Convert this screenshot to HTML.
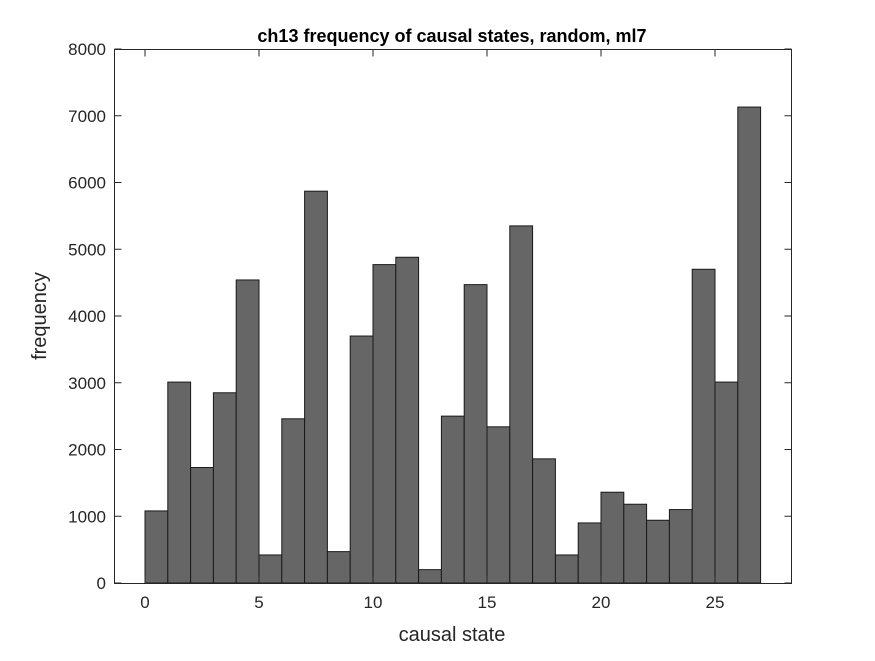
<!DOCTYPE html>
<html><head><meta charset="utf-8"><style>
body{margin:0;background:#fff;}
svg text{font-family:"Liberation Sans",Arial,sans-serif;fill:#262626;}
</style></head><body>
<svg width="875" height="656" viewBox="0 0 875 656" xmlns="http://www.w3.org/2000/svg">
<rect width="875" height="656" fill="#fff"/>
<g id="bars"></g>
<rect x="114.5" y="49.5" width="677" height="534" fill="none" stroke="#262626" stroke-width="1"/>
<g id="axes"></g>
<text x="452" y="42" text-anchor="middle" font-size="18" font-weight="bold" style="fill:#000">ch13 frequency of causal states, random, ml7</text>
<text x="452" y="641" text-anchor="middle" font-size="20">causal state</text>
<text transform="translate(46,316) rotate(-90)" text-anchor="middle" font-size="20">frequency</text>
</svg>
<script>
const categories=[0,1,2,3,4,5,6,7,8,9,10,11,12,13,14,15,16,17,18,19,20,21,22,23,24,25,26];
const values=[1080,3010,1730,2850,4540,420,2460,5870,470,3700,4770,4880,200,2500,4470,2340,5350,1860,420,900,1360,1180,940,1100,4700,3010,7130];
const xTicks=[0,5,10,15,20,25];
const yTicks=[0,1000,2000,3000,4000,5000,6000,7000,8000];
const NS='http://www.w3.org/2000/svg';
const x=v=>145+v*22.8;
const y=v=>583-v*(534/8000);
const bars=document.getElementById('bars'),axes=document.getElementById('axes');
function ln(x1,y1,x2,y2,name){
  const l=document.createElementNS(NS,'line');
  
  
  l.setAttribute('x1',x1);l.setAttribute('x2',x2);l.setAttribute('y1',y1);l.setAttribute('y2',y2);l.setAttribute('stroke','#262626');
  axes.appendChild(l);
}
categories.forEach((c,i)=>{
  const r=document.createElementNS(NS,'rect');
  
  
  r.setAttribute('x',x(c));r.setAttribute('width',22.8);
  r.setAttribute('y',y(values[i]));r.setAttribute('height',y(0)-y(values[i]));
  r.setAttribute('fill','#666');r.setAttribute('stroke','#1a1a1a');r.setAttribute('stroke-width','1');
  bars.appendChild(r);
});
xTicks.forEach(t=>{
  ln(x(t),583,x(t),576,'x-tick');
  ln(x(t),49.5,x(t),56.5,'x-tick-top');
  const tx=document.createElementNS(NS,'text');
  
  
  tx.setAttribute('x',x(t));tx.setAttribute('y',608);tx.setAttribute('text-anchor','middle');tx.setAttribute('font-size','17');
  tx.textContent=t;axes.appendChild(tx);
});
yTicks.forEach(t=>{
  ln(114.5,y(t),121.5,y(t),'y-tick');
  ln(791.5,y(t),784.5,y(t),'y-tick-right');
  const tx=document.createElementNS(NS,'text');
  
  
  tx.setAttribute('x',106);tx.setAttribute('y',y(t)+6);tx.setAttribute('text-anchor','end');tx.setAttribute('font-size','17');
  tx.textContent=t;axes.appendChild(tx);
});
</script>
</body></html>
